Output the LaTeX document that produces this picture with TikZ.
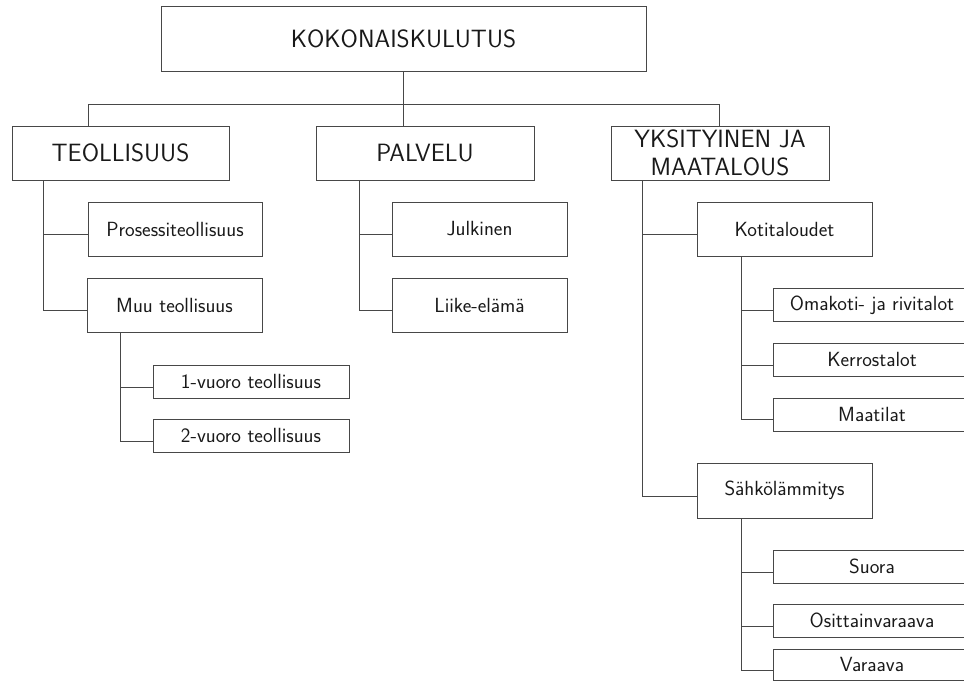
\documentclass[tikz,border=0pt]{standalone}
\begin{document}
\begin{tikzpicture}[x=1pt,y=-1pt,
  line/.style={draw=black!72,line width=1pt},
  bigbox/.style={line,rectangle,inner sep=0pt,font=\sffamily\fontsize{25}{28}\selectfont,text=black!90,align=center},
  smallbox/.style={line,rectangle,inner sep=0pt,font=\sffamily\fontsize{20.5}{24}\selectfont,text=black!90,align=center},
  conn/.style={line}]
\useasboundingbox (0,0) rectangle (964,681);
% level 0
\node[bigbox,minimum width=485pt,minimum height=65pt] (top) at (403.5,38.5) {KOKONAISKULUTUS};
% level 1
\node[bigbox,minimum width=217pt,minimum height=54pt] (teol) at (120.5,153) {TEOLLISUUS};
\node[bigbox,minimum width=218pt,minimum height=54pt] (palv) at (425,153) {PALVELU};
\node[bigbox,minimum width=218pt,minimum height=54pt] (yks) at (720,153) {YKSITYINEN JA\\MAATALOUS};
% teollisuus
\node[smallbox,minimum width=174pt,minimum height=54pt] (pros) at (175,229) {Prosessiteollisuus};
\node[smallbox,minimum width=175pt,minimum height=54pt] (muu) at (174.5,305) {Muu teollisuus};
\node[smallbox,minimum width=196pt,minimum height=33pt] (v1) at (251,381.5) {1-vuoro teollisuus};
\node[smallbox,minimum width=196pt,minimum height=33pt] (v2) at (251,435.5) {2-vuoro teollisuus};
% palvelu
\node[smallbox,minimum width=175pt,minimum height=54pt] (julk) at (479.5,229) {Julkinen};
\node[smallbox,minimum width=175pt,minimum height=54pt] (liike) at (479.5,305) {Liike-elämä};
% yksityinen
\node[smallbox,minimum width=175pt,minimum height=54pt] (koti) at (784.5,229) {Kotitaloudet};
\node[smallbox,minimum width=198pt,minimum height=33pt] (omak) at (872,305) {Omakoti- ja rivitalot};
\node[smallbox,minimum width=198pt,minimum height=33pt] (kerr) at (872,359.5) {Kerrostalot};
\node[smallbox,minimum width=198pt,minimum height=33pt] (maat) at (872,414.5) {Maatilat};
\node[smallbox,minimum width=175pt,minimum height=55pt] (sahko) at (784.5,490.5) {Sähkölämmitys};
\node[smallbox,minimum width=198pt,minimum height=33pt] (suora) at (872,566.5) {Suora};
\node[smallbox,minimum width=198pt,minimum height=33pt] (osit) at (872,620.5) {Osittainvaraava};
\node[smallbox,minimum width=198pt,minimum height=31pt] (var) at (872,664.5) {Varaava};
% bus
\coordinate (busL) at (88,104);
\coordinate (busR) at (719,104);
\draw[conn] (busL) -- (busR);
\draw[conn] (top.south) -- (top.south |- busL);
\draw[conn] (busL) -- (busL |- teol.north);
\draw[conn] (top.south |- busL) -- (top.south |- palv.north);
\draw[conn] (busR) -- (busR |- yks.north);
% teollisuus children
\draw[conn] ([xshift=32pt]teol.south west) |- ([yshift=-5pt]pros.west);
\draw[conn] ([xshift=32pt]teol.south west) |- ([yshift=-5pt]muu.west);
\draw[conn] ([xshift=34pt]muu.south west) |- ([yshift=-5.5pt]v1.west);
\draw[conn] ([xshift=34pt]muu.south west) |- ([yshift=-6pt]v2.west);
% palvelu children
\draw[conn] ([xshift=44pt]palv.south west) |- ([yshift=-5.5pt]julk.west);
\draw[conn] ([xshift=44pt]palv.south west) |- ([yshift=-5pt]liike.west);
% yksityinen children
\draw[conn] ([xshift=32pt]yks.south west) |- ([yshift=-5.5pt]koti.west);
\draw[conn] ([xshift=32pt]yks.south west) |- ([yshift=-5.5pt]sahko.west);
\draw[conn] ([xshift=45pt]koti.south west) |- ([yshift=-5.5pt]omak.west);
\draw[conn] ([xshift=45pt]koti.south west) |- ([yshift=-5.5pt]kerr.west);
\draw[conn] ([xshift=45pt]koti.south west) |- ([yshift=-5pt]maat.west);
\draw[conn] ([xshift=45pt]sahko.south west) |- ([yshift=-5.5pt]suora.west);
\draw[conn] ([xshift=45pt]sahko.south west) |- ([yshift=-6pt]osit.west);
\draw[conn] ([xshift=45pt]sahko.south west) |- ([yshift=-5.5pt]var.west);
\end{tikzpicture}
\end{document}
